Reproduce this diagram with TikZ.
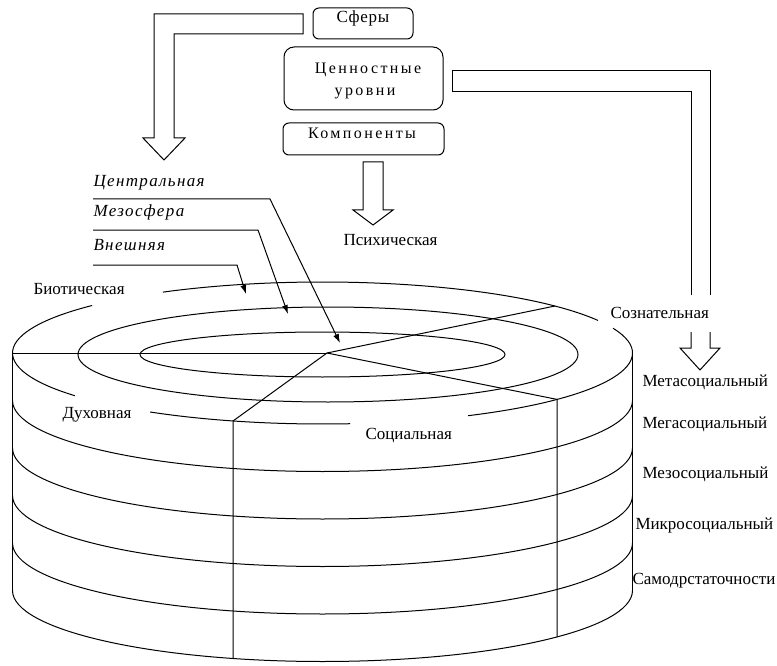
\documentclass[tikz,border=0pt]{standalone}
\usepackage{fontspec}
\setmainfont{Liberation Serif}
\usetikzlibrary{arrows.meta}
\begin{document}
\begin{tikzpicture}[x=1pt,y=-1pt, line width=1pt,
  lbl/.style={anchor=base west, inner sep=0pt, font=\fontsize{17}{19}\selectfont},
  ilbl/.style={anchor=base west, inner sep=0pt, font=\fontsize{17}{19}\selectfont\itshape\addfontfeature{LetterSpace=8}},
  boxtxt/.style={anchor=base, inner sep=0pt, font=\fontsize{16}{18}\selectfont\addfontfeature{LetterSpace=15}},
  rbox/.style={draw, rounded corners=6pt, inner sep=0pt},
  ptr/.style={-{Latex[length=9pt,width=6pt]}},
  blockarrow/.style={draw, line width=1pt, line join=miter},
]
\useasboundingbox (0,0) rectangle (777,666);

% boxes
\node[rbox, minimum width=100pt, minimum height=31pt] (sfery) at (363,23.5) {};
\node[rbox, rounded corners=10pt, minimum width=159pt, minimum height=63pt] (cenn) at (363.5,78.5) {};
\node[rbox, minimum width=161pt, minimum height=32pt] (komp) at (363.5,139) {};
\node[boxtxt, font=\fontsize{17}{19}\selectfont\addfontfeature{LetterSpace=4}] (tSf) at (363,23) {Сферы};
\node[boxtxt] (tC1) at (368,74) {Ценностные};
\node[boxtxt] (tC2) at (365,96) {уровни};
\node[boxtxt] (tK) at (362,139) {Компоненты};

% block arrows
\draw[blockarrow] (303,14) -- (154,14) -- (154,138) -- (143,138) -- (164,160) -- (185,138) -- (174,138) -- (174,34) -- (303,34) -- cycle;
\draw[blockarrow] (363,162) -- (383,162) -- (383,210) -- (393,210) -- (373,225) -- (353,210) -- (363,210) -- cycle;
\draw[blockarrow] (691,295) -- (691,92) -- (452,92) -- (452,71) -- (710,71) -- (710,295);
\draw[blockarrow] (691,332) -- (691,348) -- (680,348) -- (700,370) -- (720,348) -- (710,348) -- (710,332);

% cylinder top
\draw ([shift={(339.6:310 and 71)}]322.5,353) arc[start angle=339.6, end angle=422, x radius=310, y radius=71];
\draw ([shift={(84.9:310 and 71)}]322.5,353) arc[start angle=84.9, end angle=123.8, x radius=310, y radius=71];
\draw ([shift={(143:310 and 71)}]322.5,353) arc[start angle=143, end angle=222, x radius=310, y radius=71];
\draw ([shift={(239:310 and 71)}]322.5,353) arc[start angle=239, end angle=332.7, x radius=310, y radius=71];
\draw (328,354.5) ellipse[x radius=250, y radius=47.5];
\draw (322.5,354.5) ellipse[x radius=182.5, y radius=22.5];

% sides and layers
\draw (12.5,353) -- (12.5,590.5);
\draw (632.5,353) -- (632.5,590.5);
\foreach \k in {1,...,5}
  \draw (632.5,353+47.5*\k) arc[start angle=0, end angle=180, x radius=310, y radius=71];

\coordinate (C) at (327,353);
\draw (12.5,353) -- (C);
\draw (C) -- (555,306);
\draw (C) -- (557,399.4) -- (557,637);
\draw (C) -- (233,421) -- (233,658.5);

% pointer labels
\node[ilbl] (cen) at (93,186) {Центральная};
\node[ilbl] (mez) at (93,216) {Мезосфера};
\node[ilbl] (vne) at (93,251) {Внешняя};
\draw[ptr] (93,199) -- (270,199) -- (340,343);
\draw[ptr] (93,230) -- (258,230) -- (288,314);
\draw[ptr] (93,265) -- (237,265) -- (246,294);

% labels
\node[lbl] (psi) at (343,245) {Психическая};
\node[lbl] (bio) at (33,294) {Биотическая};
\node[lbl] (soz) at (610,318) {Сознательная};
\node[lbl] (duh) at (62,418) {Духовная};
\node[lbl] (soc) at (365,439) {Социальная};
\node[lbl] (l1) at (642,386) {Метасоциальный};
\node[lbl] (l2) at (642,428) {Мегасоциальный};
\node[lbl] (l3) at (642,478) {Мезосоциальный};
\node[lbl] (l4) at (635,529) {Микросоциальный};
\node[lbl] (l5) at (632,584) {Самодрстаточности};
\end{tikzpicture}
\end{document}
